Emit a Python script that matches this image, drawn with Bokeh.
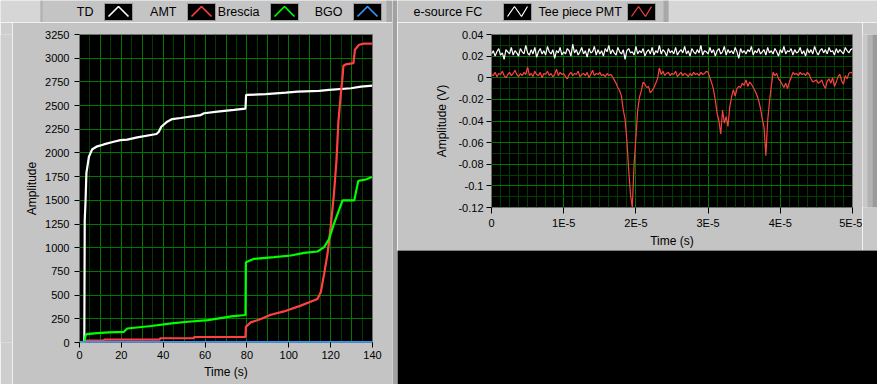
import numpy as np
from bokeh.plotting import figure
from bokeh.layouts import row, column
from bokeh.models import Range1d, FixedTicker
from bokeh.embed import file_html
from bokeh.resources import INLINE

FONT = "Liberation Sans"
PANEL = "#c4c4c4"
STRIP = "#d6d6d6"
GRID_MAJ = "#007800"
GRID_MIN = "#003c00"

# ---------------- left chart data (Time s, Amplitude) ----------------
left_series = ["TD", "AMT", "Brescia", "BGO"]
left_colors = ["#ffffff", "#ff4040", "#00ff00", "#3399ff"]

td_t = [0, 2.3, 2.5, 2.9, 3.3, 4.5, 6.1, 8.5, 11.6, 16.3, 19.6, 22.8, 27.6, 36.8, 37.9, 39.1,
        41.9, 44.3, 48.3, 57.9, 59.5, 65.9, 73.8, 79.3, 79.6, 89.0, 98.6, 104.2, 114.5, 119.3,
        129.7, 134.5, 140.0]
td_v = [0, 0, 1290, 1500, 1790, 1960, 2040, 2070, 2090, 2118, 2136, 2140, 2164, 2200, 2224, 2277,
        2330, 2358, 2369, 2400, 2419, 2436, 2454, 2467, 2612, 2620, 2637, 2648, 2655, 2665,
        2683, 2700, 2711]

amt_t = [0, 2.5, 2.9, 3.2, 11.6, 11.8, 38.3, 38.5, 54.6, 54.8, 79.3, 79.5, 81.8, 86.6, 91.4,
         97.7, 105.7, 113.7, 115.3, 116.9, 118.5, 120.0, 121.6, 122.8, 123.7, 124.9, 125.7,
         126.1, 127.2, 130.9, 131.6, 133.6, 136.0, 140.0]
amt_v = [0, 0, 10, 20, 20, 30, 30, 45, 45, 58, 58, 165, 212, 248, 293, 328, 389, 460, 530, 724,
         936, 1218, 1572, 1924, 2330, 2630, 2806, 2920, 2934, 2948, 3089, 3142, 3153, 3153]

brescia_t = [0, 2.4, 2.9, 3.4, 8.5, 14.0, 21.2, 22.8, 34.3, 43.9, 51.8, 61.4, 72.6, 79.3, 79.5,
             83.4, 93.0, 101.0, 107.4, 113.7, 116.9, 119.3, 121.6, 125.7, 131.3, 132.1, 133.2,
             136.8, 139.7]
brescia_v = [0, 0, 71, 89, 99, 106, 113, 148, 174, 201, 219, 237, 275, 290, 847, 883, 900, 918,
             946, 960, 1006, 1095, 1254, 1500, 1500, 1589, 1705, 1720, 1747]

bgo_t = [0, 140]
bgo_v = [4, 4]

left_x_ticks = [0, 20, 40, 60, 80, 100, 120, 140]
left_y_ticks = [0, 250, 500, 750, 1000, 1250, 1500, 1750, 2000, 2250, 2500, 2750, 3000, 3250]

# ---------------- right chart data (waveforms, mV, dt = 0.25 us) ----------------
right_series = ["e-source FC", "Tee piece PMT"]
right_colors = ["#ffffff", "#ff4040"]
dt = 0.25e-6

esource_mv = [
    22, 25, 20, 24, 27, 21, 23, 17, 26, 24,
    22, 28, 21, 25, 23, 20, 27, 24, 22, 30,
    23, 21, 26, 22, 28, 19, 24, 27, 22, 25,
    21, 29, 24, 22, 26, 18, 25, 23, 28, 21,
    24, 22, 27, 25, 20, 31, 23, 26, 21, 24,
    28, 22, 25, 19, 27, 23, 24, 29, 21, 26,
    22, 25, 20, 27, 24, 30, 22, 26, 23, 21,
    28, 24, 22, 26, 17, 25, 27, 23, 24, 21,
    29, 22, 25, 23, 27, 20, 24, 26, 22, 28,
    21, 25, 23, 30, 22, 26, 24, 20, 27, 23,
    25, 22, 28, 21, 24, 26, 23, 29, 22, 25,
    20, 27, 24, 22, 26, 23, 30, 21, 25, 24,
    22, 28, 23, 26, 20, 25, 27, 22, 24, 29,
    21, 26, 23, 25, 22, 28, 24, 18, 27, 23,
    25, 22, 26, 24, 29, 21, 25, 23, 27, 22,
    24, 26, 21, 28, 23, 25, 22, 27, 24, 20,
    26, 23, 29, 22, 25, 24, 27, 21, 26, 23,
    24, 28, 22, 25, 20, 27, 23, 26, 22, 29,
    24, 21, 25, 27, 23, 26, 22, 28, 24, 25,
    21, 27, 23, 26, 24, 22, 28, 25, 23, 26,
    27]

tee_mv = [
    3, 2, 5, 1, 4, 3, 6, 2, 0, 3,
    5, 2, 4, 7, 3, 1, 4, 2, 5, 3,
    10, 2, 4, 1, 6, 3, 2, 5, 0, 4,
    3, 6, 2, 4, 1, 3, 8, 2, 5, 3,
    4, 1, -1, 3, 5, 2, 4, 3, 6, 1,
    3, 4, 2, 5, 0, 3, 7, 2, 4, 3,
    5, 2, 3, 1, 4, 2, 3,
    1, -2, -5, -9, -12, -17, -30, -38, -58, -85,
    -108, -120, -80, -55, -30, -18, -12, -4, -6, -9,
    -8, -14, -12, -9, -5, -1, 9,
    3, 6, 2, 4, 5, 2, 4, 3, 6, 1,
    3, 5, 2, 4, 3, 1, 4, 2, 5, 3,
    4, 2, 5, 3, 4, 6, 5,
    0, -5, -11, -21, -33, -40, -52, -30, -42, -36,
    -45, -27, -18, -11, -17, -10, -8, -9, -5, -7,
    -2, -8, -4, -6, -9, -12, -16, -21, -28, -38,
    -46, -72, -40, -22, -8, 5, 2, 4, -1, -3,
    -6, -9, -5, -10, -4, 0, 5, 3,
    4, 2, 5, 3, 4, 2, 5, 3,
    -1, -4, -3, -2, -5, -4, -2, -7, -10, -3,
    -1, -5, 0, -8, -4, 1, 3, -3, -6, 2,
    -1, 4, 5, 4]

right_x_ticks = [0, 1e-5, 2e-5, 3e-5, 4e-5, 5e-5]
right_x_labels = ["0", "1E-5", "2E-5", "3E-5", "4E-5", "5E-5"]
right_y_ticks = [-0.12, -0.1, -0.08, -0.06, -0.04, -0.02, 0, 0.02, 0.04]
right_y_labels = ["-0.12", "-0.1", "-0.08", "-0.06", "-0.04", "-0.02", "0", "0.02", "0.04"]


def blank(w, h, color):
    f = figure(width=w, height=h, x_range=Range1d(0, w), y_range=Range1d(h, 0),
               toolbar_location=None, output_backend="svg", min_border=0,
               x_axis_location=None, y_axis_location=None,
               background_fill_color=color, border_fill_color=color, outline_line_color=None)
    f.grid.grid_line_color = None
    return f


def style_axis(ax, tout, standoff, label_standoff):
    ax.axis_line_color = None
    ax.major_tick_line_color = "black"
    ax.major_tick_in = 0
    ax.major_tick_out = tout
    ax.minor_tick_line_color = None
    ax.major_label_text_font = FONT
    ax.major_label_text_font_size = "11px"
    ax.major_label_text_color = "black"
    ax.major_label_standoff = standoff
    ax.axis_label_text_font = FONT
    ax.axis_label_text_font_size = "12px"
    ax.axis_label_text_font_style = "normal"
    ax.axis_label_text_color = "black"
    ax.axis_label_standoff = label_standoff


# ---------------- legends ----------------
leg_l = blank(392, 22, STRIP)
leg_l.quad(left=40, right=389, top=0, bottom=22, fill_color=PANEL, line_color=None)
leg_l.quad(left=40, right=42, top=0, bottom=22, fill_color="#b0b0b0", line_color=None)
leg_l.quad(left=386, right=392, top=0, bottom=22, fill_color="#a8a8a8", line_color=None)
for i, (name, col) in enumerate(zip(left_series, left_colors)):
    sx = 104 + 83 * i
    leg_l.text(x=[sx - 11], y=[11.5], text=[name], text_align="right", text_baseline="middle",
               text_font={"value": FONT}, text_font_size="12.5px", text_color="black")
    leg_l.quad(left=sx, right=sx + 28, top=3, bottom=20, fill_color="black", line_color="#9a9a9a")
    leg_l.line(x=[sx + 4, sx + 14, sx + 24], y=[16, 6, 16], line_color=col, line_width=1.6)

leg_r = blank(480, 22, STRIP)
leg_r.quad(left=0, right=271, top=0, bottom=22, fill_color=PANEL, line_color=None)
leg_r.quad(left=266, right=271, top=0, bottom=22, fill_color="#a8a8a8", line_color=None)
for i, (name, col) in enumerate(zip(right_series, right_colors)):
    sx = 106 + 124 * i
    leg_r.text(x=[16 + 125 * i], y=[11.5], text=[name], text_align="left", text_baseline="middle",
               text_font={"value": FONT}, text_font_size="12.5px", text_color="black")
    leg_r.quad(left=sx, right=sx + 28, top=3, bottom=20, fill_color="black", line_color="#9a9a9a")
    leg_r.line(x=[sx + 4, sx + 11, sx + 18, sx + 24], y=[16, 6, 16, 6], line_color=col, line_width=1.2)

# ---------------- left chart ----------------
pl = figure(width=380, height=362, x_range=Range1d(0, 140), y_range=Range1d(0, 3250),
            output_backend="svg", toolbar_location=None,
            min_border_left=67, min_border_right=20, min_border_top=12, min_border_bottom=42,
            background_fill_color="black", border_fill_color=PANEL,
            outline_line_color="#707070", x_axis_label="Time (s)", y_axis_label="Amplitude")
pl.xaxis.ticker = FixedTicker(ticks=left_x_ticks, minor_ticks=[])
pl.yaxis.ticker = FixedTicker(ticks=left_y_ticks, minor_ticks=[])
style_axis(pl.xaxis[0], 5, 3, 3)
style_axis(pl.yaxis[0], 5, 5, 3)
pl.xgrid[0].ticker = FixedTicker(ticks=[x for x in range(10, 140, 10)],
                                 minor_ticks=[x for x in range(5, 140, 10)])
pl.xgrid[0].grid_line_color = GRID_MAJ
pl.xgrid[0].minor_grid_line_color = GRID_MIN
pl.ygrid[0].ticker = FixedTicker(ticks=left_y_ticks[1:-1], minor_ticks=[])
pl.ygrid[0].grid_line_color = GRID_MAJ
for xs, ys, col in zip([td_t, amt_t, brescia_t, bgo_t], [td_v, amt_v, brescia_v, bgo_v], left_colors):
    pl.line(xs, ys, line_color=col, line_width=2.2)

bevel = blank(12, 362, "#cecece")
left_col = column(leg_l, row(bevel, pl))

divider = blank(5, 384, "#a2a2a2")

# ---------------- right chart ----------------
t_r = np.arange(len(esource_mv)) * dt
pr = figure(width=465, height=228, x_range=Range1d(0, 5e-5), y_range=Range1d(-0.12, 0.04),
            output_backend="svg", toolbar_location=None,
            min_border_left=94, min_border_right=10, min_border_top=12, min_border_bottom=40,
            background_fill_color="black", border_fill_color=PANEL,
            outline_line_color="#707070", x_axis_label="Time (s)", y_axis_label="Amplitude (V)")
pr.xaxis.ticker = FixedTicker(ticks=right_x_ticks, minor_ticks=[])
pr.yaxis.ticker = FixedTicker(ticks=right_y_ticks, minor_ticks=[])
pr.xaxis.major_label_overrides = dict(zip(right_x_ticks, right_x_labels))
pr.yaxis.major_label_overrides = dict(zip(right_y_ticks, right_y_labels))
style_axis(pr.xaxis[0], 6, 3, 2)
style_axis(pr.yaxis[0], 5, 3, 6)
pr.xgrid[0].ticker = FixedTicker(ticks=[1e-5, 2e-5, 3e-5, 4e-5],
                                 minor_ticks=[k * 1.25e-6 for k in range(1, 40) if k % 8 != 0])
pr.xgrid[0].grid_line_color = GRID_MAJ
pr.xgrid[0].minor_grid_line_color = GRID_MIN
pr.ygrid[0].ticker = FixedTicker(ticks=[-0.1, -0.08, -0.06, -0.04, -0.02, 0, 0.02],
                                 minor_ticks=[-0.11, -0.09, -0.07, -0.05, -0.03, -0.01, 0.01, 0.03])
pr.ygrid[0].grid_line_color = GRID_MAJ
pr.ygrid[0].minor_grid_line_color = GRID_MIN
for vals, col in zip([esource_mv, tee_mv], right_colors):
    pr.line(t_r, np.array(vals) * 1e-3, line_color=col, line_width=1.2)

scroll = blank(15, 228, "#c8c8c8")
scroll.quad(left=5, right=10, top=0, bottom=228, fill_color="#b2b2b2", line_color=None)
scroll.quad(left=10, right=15, top=0, bottom=228, fill_color="#9a9a9a", line_color=None)

black = blank(480, 134, "black")
right_col = column(leg_r, row(pr, scroll), black)

layout = row(left_col, divider, right_col)
open("out.html", "w").write(file_html(layout, INLINE))
